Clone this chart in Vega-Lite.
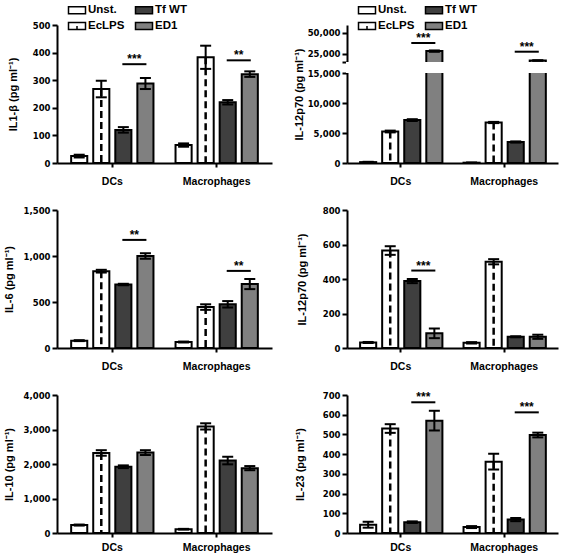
{
  "$schema": "https://vega.github.io/schema/vega-lite/v6.json",
  "padding": {"left": 3, "top": 4, "right": 0, "bottom": 0},
  "background": "white",
  "datasets": {
    "bars": [
      {"panel": "IL1b", "cell": "DCs", "cond": "Unst.", "value": 25, "lo": 20, "hi": 30},
      {"panel": "IL1b", "cell": "DCs", "cond": "EcLPS", "value": 268, "lo": 238, "hi": 298},
      {"panel": "IL1b", "cell": "DCs", "cond": "Tf WT", "value": 120, "lo": 110, "hi": 130},
      {"panel": "IL1b", "cell": "DCs", "cond": "ED1", "value": 288, "lo": 268, "hi": 308},
      {"panel": "IL1b", "cell": "Macrophages", "cond": "Unst.", "value": 65, "lo": 59, "hi": 71},
      {"panel": "IL1b", "cell": "Macrophages", "cond": "EcLPS", "value": 383, "lo": 341, "hi": 425},
      {"panel": "IL1b", "cell": "Macrophages", "cond": "Tf WT", "value": 220, "lo": 212, "hi": 228},
      {"panel": "IL1b", "cell": "Macrophages", "cond": "ED1", "value": 322, "lo": 312, "hi": 332},
      {"panel": "IL12a", "cell": "DCs", "cond": "Unst.", "value": 150, "lo": 100, "hi": 200},
      {"panel": "IL12a", "cell": "DCs", "cond": "EcLPS", "value": 5250, "lo": 5100, "hi": 5400},
      {"panel": "IL12a", "cell": "DCs", "cond": "Tf WT", "value": 7150, "lo": 7000, "hi": 7300},
      {"panel": "IL12a", "cell": "DCs", "cond": "ED1", "value": 28000, "lo": 27200, "hi": 28800},
      {"panel": "IL12a", "cell": "Macrophages", "cond": "Unst.", "value": 50, "lo": 30, "hi": 70},
      {"panel": "IL12a", "cell": "Macrophages", "cond": "EcLPS", "value": 6750, "lo": 6650, "hi": 6850},
      {"panel": "IL12a", "cell": "Macrophages", "cond": "Tf WT", "value": 3500, "lo": 3400, "hi": 3600},
      {"panel": "IL12a", "cell": "Macrophages", "cond": "ED1", "value": 16800, "lo": 16500, "hi": 17100},
      {"panel": "IL6", "cell": "DCs", "cond": "Unst.", "value": 80, "lo": 75, "hi": 85},
      {"panel": "IL6", "cell": "DCs", "cond": "EcLPS", "value": 835, "lo": 820, "hi": 850},
      {"panel": "IL6", "cell": "DCs", "cond": "Tf WT", "value": 690, "lo": 682, "hi": 698},
      {"panel": "IL6", "cell": "DCs", "cond": "ED1", "value": 1000, "lo": 970, "hi": 1030},
      {"panel": "IL6", "cell": "Macrophages", "cond": "Unst.", "value": 65, "lo": 60, "hi": 70},
      {"panel": "IL6", "cell": "Macrophages", "cond": "EcLPS", "value": 445, "lo": 415, "hi": 475},
      {"panel": "IL6", "cell": "Macrophages", "cond": "Tf WT", "value": 475, "lo": 440, "hi": 510},
      {"panel": "IL6", "cell": "Macrophages", "cond": "ED1", "value": 695, "lo": 640, "hi": 750},
      {"panel": "IL12b", "cell": "DCs", "cond": "Unst.", "value": 32, "lo": 29, "hi": 35},
      {"panel": "IL12b", "cell": "DCs", "cond": "EcLPS", "value": 565, "lo": 540, "hi": 590},
      {"panel": "IL12b", "cell": "DCs", "cond": "Tf WT", "value": 388, "lo": 376, "hi": 400},
      {"panel": "IL12b", "cell": "DCs", "cond": "ED1", "value": 85, "lo": 57, "hi": 113},
      {"panel": "IL12b", "cell": "Macrophages", "cond": "Unst.", "value": 30, "lo": 26, "hi": 34},
      {"panel": "IL12b", "cell": "Macrophages", "cond": "EcLPS", "value": 500, "lo": 485, "hi": 515},
      {"panel": "IL12b", "cell": "Macrophages", "cond": "Tf WT", "value": 65, "lo": 62, "hi": 68},
      {"panel": "IL12b", "cell": "Macrophages", "cond": "ED1", "value": 65, "lo": 53, "hi": 77},
      {"panel": "IL10", "cell": "DCs", "cond": "Unst.", "value": 230, "lo": 215, "hi": 245},
      {"panel": "IL10", "cell": "DCs", "cond": "EcLPS", "value": 2320, "lo": 2240, "hi": 2400},
      {"panel": "IL10", "cell": "DCs", "cond": "Tf WT", "value": 1920, "lo": 1880, "hi": 1960},
      {"panel": "IL10", "cell": "DCs", "cond": "ED1", "value": 2330, "lo": 2260, "hi": 2400},
      {"panel": "IL10", "cell": "Macrophages", "cond": "Unst.", "value": 110, "lo": 100, "hi": 120},
      {"panel": "IL10", "cell": "Macrophages", "cond": "EcLPS", "value": 3090, "lo": 3000, "hi": 3180},
      {"panel": "IL10", "cell": "Macrophages", "cond": "Tf WT", "value": 2100, "lo": 1990, "hi": 2210},
      {"panel": "IL10", "cell": "Macrophages", "cond": "ED1", "value": 1880, "lo": 1820, "hi": 1940},
      {"panel": "IL23", "cell": "DCs", "cond": "Unst.", "value": 42, "lo": 27, "hi": 57},
      {"panel": "IL23", "cell": "DCs", "cond": "EcLPS", "value": 530, "lo": 508, "hi": 552},
      {"panel": "IL23", "cell": "DCs", "cond": "Tf WT", "value": 55, "lo": 51, "hi": 59},
      {"panel": "IL23", "cell": "DCs", "cond": "ED1", "value": 570, "lo": 520, "hi": 620},
      {"panel": "IL23", "cell": "Macrophages", "cond": "Unst.", "value": 30, "lo": 25, "hi": 35},
      {"panel": "IL23", "cell": "Macrophages", "cond": "EcLPS", "value": 362, "lo": 322, "hi": 402},
      {"panel": "IL23", "cell": "Macrophages", "cond": "Tf WT", "value": 68, "lo": 60, "hi": 76},
      {"panel": "IL23", "cell": "Macrophages", "cond": "ED1", "value": 497, "lo": 485, "hi": 509}
    ],
    "sig": [
      {"panel": "IL1b", "cell": "DCs", "cond": "Tf WT", "y": 358, "stars": "***"},
      {"panel": "IL1b", "cell": "DCs", "cond": "ED1", "y": 358, "stars": ""},
      {"panel": "IL1b", "cell": "Macrophages", "cond": "Tf WT", "y": 372, "stars": "**"},
      {"panel": "IL1b", "cell": "Macrophages", "cond": "ED1", "y": 372, "stars": ""},
      {"panel": "IL12a", "cell": "DCs", "cond": "Tf WT", "y": 37700, "stars": "***"},
      {"panel": "IL12a", "cell": "DCs", "cond": "ED1", "y": 37700, "stars": ""},
      {"panel": "IL12a", "cell": "Macrophages", "cond": "Tf WT", "y": 27300, "stars": "***"},
      {"panel": "IL12a", "cell": "Macrophages", "cond": "ED1", "y": 27300, "stars": ""},
      {"panel": "IL6", "cell": "DCs", "cond": "Tf WT", "y": 1175, "stars": "**"},
      {"panel": "IL6", "cell": "DCs", "cond": "ED1", "y": 1175, "stars": ""},
      {"panel": "IL6", "cell": "Macrophages", "cond": "Tf WT", "y": 838, "stars": "**"},
      {"panel": "IL6", "cell": "Macrophages", "cond": "ED1", "y": 838, "stars": ""},
      {"panel": "IL12b", "cell": "DCs", "cond": "Tf WT", "y": 449, "stars": "***"},
      {"panel": "IL12b", "cell": "DCs", "cond": "ED1", "y": 449, "stars": ""},
      {"panel": "IL23", "cell": "DCs", "cond": "Tf WT", "y": 663, "stars": "***"},
      {"panel": "IL23", "cell": "DCs", "cond": "ED1", "y": 663, "stars": ""},
      {"panel": "IL23", "cell": "Macrophages", "cond": "Tf WT", "y": 612, "stars": "***"},
      {"panel": "IL23", "cell": "Macrophages", "cond": "ED1", "y": 612, "stars": ""}
    ]
  },
  "columns": 2,
  "bounds": "flush",
  "align": "all",
  "spacing": {"row": 47, "column": 75},
  "resolve": {"scale": {"fill": "independent"}, "legend": {"fill": "independent"}},
  "concat": [
    {
      "width": 215, "height": 138,
      "data": {"name": "bars"},
      "transform": [{"filter": "datum.panel === 'IL1b'"}],
      "resolve": {"axis": {"y": "independent"}},
      "encoding": {
        "x": {"field": "cell", "type": "nominal", "sort": ["DCs", "Macrophages"], "scale": {"paddingInner": 0, "paddingOuter": 0.03}, "axis": {"title": null, "labelAngle": 0, "bandPosition": 0.5}},
        "xOffset": {"field": "cond", "type": "nominal", "scale": {"domain": ["Unst.", "EcLPS", "Tf WT", "ED1"], "paddingInner": 0.27, "paddingOuter": 0.5}}
      },
      "layer": [
        {"mark": {"type": "bar", "stroke": "black", "strokeWidth": 2},
         "encoding": {
           "y": {"field": "value", "type": "quantitative", "title": "IL1-β (pg ml⁻¹)", "scale": {"domain": [0, 500], "nice": false}, "axis": {"values": [0, 100, 200, 300, 400, 500], "format": ",.0f", "titlePadding": 14}},
           "fill": {"field": "cond", "type": "nominal", "scale": {"domain": ["Unst.", "EcLPS", "Tf WT", "ED1"], "range": ["#ffffff", "#ffffff", "#3f3f3f", "#808080"]},
             "legend": {"orient": "none", "legendX": 14, "legendY": -21, "columns": 2, "title": null, "padding": 0,
               "symbolType": "M-1.7,-0.7H1.7V0.7H-1.7Z", "symbolSize": 100, "symbolStrokeColor": "black", "symbolStrokeWidth": 1.5,
               "labelFont": "Liberation Sans", "labelFontSize": 11.5, "labelFontWeight": "bold", "labelColor": "black", "labelOffset": 5, "rowPadding": 2, "columnPadding": 7,
               "encode": {"symbols": {"update": {"shape": {"signal": "datum.value === 'EcLPS' ? 'M-1.7,-0.7H1.7V0.7H-1.7ZM0,0.7V0' : 'M-1.7,-0.7H1.7V0.7H-1.7Z'"}, "stroke": {"value": "black"}}}}}}
         }},
        {"transform": [{"filter": "datum.cond === 'EcLPS'"}], "mark": {"type": "rule", "strokeDash": [7, 4], "strokeWidth": 2.5, "color": "black"},
         "encoding": {"y": {"field": "value", "type": "quantitative", "axis": null}, "y2": {"datum": 0}}},
        {"mark": {"type": "rule", "strokeWidth": 2, "color": "black"}, "encoding": {"y": {"field": "lo", "type": "quantitative", "axis": null}, "y2": {"field": "hi"}}},
        {"mark": {"type": "tick", "thickness": 2, "size": 11, "color": "black", "opacity": 1}, "encoding": {"y": {"field": "hi", "type": "quantitative", "axis": null}}},
        {"mark": {"type": "tick", "thickness": 2, "size": 11, "color": "black", "opacity": 1}, "encoding": {"y": {"field": "lo", "type": "quantitative", "axis": null}}},
        {"data": {"name": "sig"}, "transform": [{"filter": "datum.panel === 'IL1b'"}], "mark": {"type": "line", "strokeWidth": 2, "color": "black", "strokeCap": "square"},
         "encoding": {"y": {"field": "y", "type": "quantitative", "axis": null}, "detail": {"field": "cell"}}},
        {"data": {"name": "sig"}, "transform": [{"filter": "datum.panel === 'IL1b' && datum.stars !== ''"}], "mark": {"type": "text", "font": "Liberation Sans", "fontWeight": "bold", "fontSize": 12, "dx": 11, "dy": -1, "baseline": "alphabetic", "color": "black"},
         "encoding": {"y": {"field": "y", "type": "quantitative", "axis": null}, "text": {"field": "stars"}}}
      ]
    },
    {
      "width": 211, "height": 138,
      "resolve": {"axis": {"y": "independent"}},
      "layer": [
        {
          "data": {"name": "bars"},
          "transform": [{"filter": "datum.panel === 'IL12a'"}],
          "resolve": {"axis": {"y": "independent"}},
          "encoding": {
            "x": {"field": "cell", "type": "nominal", "sort": ["DCs", "Macrophages"], "scale": {"paddingInner": 0, "paddingOuter": 0.02}, "axis": {"title": null, "labelAngle": 0, "bandPosition": 0.5}},
            "xOffset": {"field": "cond", "type": "nominal", "scale": {"domain": ["Unst.", "EcLPS", "Tf WT", "ED1"], "paddingInner": 0.27, "paddingOuter": 0.5}}
          },
          "layer": [
            {"mark": {"type": "bar", "stroke": "black", "strokeWidth": 2},
             "encoding": {
               "y": {"field": "value", "type": "quantitative", "title": "IL-12p70 (pg ml⁻¹)", "scale": {"domain": [0, 15000, 15001, 59200], "range": [138, 48, 37, 0], "nice": false, "zero": false},
                 "axis": {"values": [0, 5000, 10000, 15000, 15001, 25000, 50000], "labelExpr": "datum.value === 15001 ? '' : format(datum.value, ',.0f')", "titlePadding": 3, "zindex": 0}},
               "fill": {"field": "cond", "type": "nominal", "scale": {"domain": ["Unst.", "EcLPS", "Tf WT", "ED1"], "range": ["#ffffff", "#ffffff", "#3f3f3f", "#808080"]},
                 "legend": {"orient": "none", "legendX": 14, "legendY": -21, "columns": 2, "title": null, "padding": 0,
                   "symbolType": "M-1.7,-0.7H1.7V0.7H-1.7Z", "symbolSize": 100, "symbolStrokeColor": "black", "symbolStrokeWidth": 1.5,
                   "labelFont": "Liberation Sans", "labelFontSize": 11.5, "labelFontWeight": "bold", "labelColor": "black", "labelOffset": 5, "rowPadding": 2, "columnPadding": 7,
                   "encode": {"symbols": {"update": {"shape": {"signal": "datum.value === 'EcLPS' ? 'M-1.7,-0.7H1.7V0.7H-1.7ZM0,0.7V0' : 'M-1.7,-0.7H1.7V0.7H-1.7Z'"}, "stroke": {"value": "black"}}}}}}
             }},
            {"transform": [{"filter": "datum.cond === 'EcLPS'"}], "mark": {"type": "rule", "strokeDash": [7, 4], "strokeWidth": 2.5, "color": "black"},
             "encoding": {"y": {"field": "value", "type": "quantitative", "axis": null}, "y2": {"datum": 0}}},
            {"mark": {"type": "rule", "strokeWidth": 2, "color": "black"}, "encoding": {"y": {"field": "lo", "type": "quantitative", "axis": null}, "y2": {"field": "hi"}}},
            {"mark": {"type": "tick", "thickness": 2, "size": 11, "color": "black", "opacity": 1}, "encoding": {"y": {"field": "hi", "type": "quantitative", "axis": null}}},
            {"mark": {"type": "tick", "thickness": 2, "size": 11, "color": "black", "opacity": 1}, "encoding": {"y": {"field": "lo", "type": "quantitative", "axis": null}}}
          ]
        },
        {"data": {"values": [{}]}, "mark": {"type": "rect", "fill": "white", "stroke": "white", "strokeWidth": 2},
         "encoding": {"y": {"datum": 15000.09, "type": "quantitative", "axis": null}, "y2": {"datum": 15000.91}}},
        {
          "data": {"name": "sig"},
          "transform": [{"filter": "datum.panel === 'IL12a'"}],
          "resolve": {"axis": {"y": "independent"}},
          "encoding": {
            "x": {"field": "cell", "type": "nominal", "sort": ["DCs", "Macrophages"]},
            "xOffset": {"field": "cond", "type": "nominal"}
          },
          "layer": [
            {"mark": {"type": "line", "strokeWidth": 2, "color": "black", "strokeCap": "square"},
             "encoding": {"y": {"field": "y", "type": "quantitative", "axis": null}, "detail": {"field": "cell"}}},
            {"transform": [{"filter": "datum.stars !== ''"}], "mark": {"type": "text", "font": "Liberation Sans", "fontWeight": "bold", "fontSize": 12, "dx": 11, "dy": -1, "baseline": "alphabetic", "color": "black"},
             "encoding": {"y": {"field": "y", "type": "quantitative", "axis": null}, "text": {"field": "stars"}}}
          ]
        }
      ]
    },
    {
      "width": 215, "height": 138,
      "data": {"name": "bars"},
      "transform": [{"filter": "datum.panel === 'IL6'"}],
      "resolve": {"axis": {"y": "independent"}},
      "encoding": {
        "x": {"field": "cell", "type": "nominal", "sort": ["DCs", "Macrophages"], "scale": {"paddingInner": 0, "paddingOuter": 0.03}, "axis": {"title": null, "labelAngle": 0, "bandPosition": 0.5}},
        "xOffset": {"field": "cond", "type": "nominal", "scale": {"domain": ["Unst.", "EcLPS", "Tf WT", "ED1"], "paddingInner": 0.27, "paddingOuter": 0.5}}
      },
      "layer": [
        {"mark": {"type": "bar", "stroke": "black", "strokeWidth": 2},
         "encoding": {
           "y": {"field": "value", "type": "quantitative", "title": "IL-6 (pg ml⁻¹)", "scale": {"domain": [0, 1500], "nice": false}, "axis": {"values": [0, 500, 1000, 1500], "format": ",.0f", "titlePadding": 9}},
           "fill": {"field": "cond", "type": "nominal", "scale": {"domain": ["Unst.", "EcLPS", "Tf WT", "ED1"], "range": ["#ffffff", "#ffffff", "#3f3f3f", "#808080"]}, "legend": null}
         }},
        {"transform": [{"filter": "datum.cond === 'EcLPS'"}], "mark": {"type": "rule", "strokeDash": [7, 4], "strokeWidth": 2.5, "color": "black"},
         "encoding": {"y": {"field": "value", "type": "quantitative", "axis": null}, "y2": {"datum": 0}}},
        {"mark": {"type": "rule", "strokeWidth": 2, "color": "black"}, "encoding": {"y": {"field": "lo", "type": "quantitative", "axis": null}, "y2": {"field": "hi"}}},
        {"mark": {"type": "tick", "thickness": 2, "size": 11, "color": "black", "opacity": 1}, "encoding": {"y": {"field": "hi", "type": "quantitative", "axis": null}}},
        {"mark": {"type": "tick", "thickness": 2, "size": 11, "color": "black", "opacity": 1}, "encoding": {"y": {"field": "lo", "type": "quantitative", "axis": null}}},
        {"data": {"name": "sig"}, "transform": [{"filter": "datum.panel === 'IL6'"}], "mark": {"type": "line", "strokeWidth": 2, "color": "black", "strokeCap": "square"},
         "encoding": {"y": {"field": "y", "type": "quantitative", "axis": null}, "detail": {"field": "cell"}}},
        {"data": {"name": "sig"}, "transform": [{"filter": "datum.panel === 'IL6' && datum.stars !== ''"}], "mark": {"type": "text", "font": "Liberation Sans", "fontWeight": "bold", "fontSize": 12, "dx": 11, "dy": -1, "baseline": "alphabetic", "color": "black"},
         "encoding": {"y": {"field": "y", "type": "quantitative", "axis": null}, "text": {"field": "stars"}}}
      ]
    },
    {
      "width": 211, "height": 138,
      "data": {"name": "bars"},
      "transform": [{"filter": "datum.panel === 'IL12b'"}],
      "resolve": {"axis": {"y": "independent"}},
      "encoding": {
        "x": {"field": "cell", "type": "nominal", "sort": ["DCs", "Macrophages"], "scale": {"paddingInner": 0, "paddingOuter": 0.02}, "axis": {"title": null, "labelAngle": 0, "bandPosition": 0.5}},
        "xOffset": {"field": "cond", "type": "nominal", "scale": {"domain": ["Unst.", "EcLPS", "Tf WT", "ED1"], "paddingInner": 0.27, "paddingOuter": 0.5}}
      },
      "layer": [
        {"mark": {"type": "bar", "stroke": "black", "strokeWidth": 2},
         "encoding": {
           "y": {"field": "value", "type": "quantitative", "title": "IL-12p70 (pg ml⁻¹)", "scale": {"domain": [0, 800], "nice": false}, "axis": {"values": [0, 200, 400, 600, 800], "format": ",.0f", "titlePadding": 15}},
           "fill": {"field": "cond", "type": "nominal", "scale": {"domain": ["Unst.", "EcLPS", "Tf WT", "ED1"], "range": ["#ffffff", "#ffffff", "#3f3f3f", "#808080"]}, "legend": null}
         }},
        {"transform": [{"filter": "datum.cond === 'EcLPS'"}], "mark": {"type": "rule", "strokeDash": [7, 4], "strokeWidth": 2.5, "color": "black"},
         "encoding": {"y": {"field": "value", "type": "quantitative", "axis": null}, "y2": {"datum": 0}}},
        {"mark": {"type": "rule", "strokeWidth": 2, "color": "black"}, "encoding": {"y": {"field": "lo", "type": "quantitative", "axis": null}, "y2": {"field": "hi"}}},
        {"mark": {"type": "tick", "thickness": 2, "size": 11, "color": "black", "opacity": 1}, "encoding": {"y": {"field": "hi", "type": "quantitative", "axis": null}}},
        {"mark": {"type": "tick", "thickness": 2, "size": 11, "color": "black", "opacity": 1}, "encoding": {"y": {"field": "lo", "type": "quantitative", "axis": null}}},
        {"data": {"name": "sig"}, "transform": [{"filter": "datum.panel === 'IL12b'"}], "mark": {"type": "line", "strokeWidth": 2, "color": "black", "strokeCap": "square"},
         "encoding": {"y": {"field": "y", "type": "quantitative", "axis": null}, "detail": {"field": "cell"}}},
        {"data": {"name": "sig"}, "transform": [{"filter": "datum.panel === 'IL12b' && datum.stars !== ''"}], "mark": {"type": "text", "font": "Liberation Sans", "fontWeight": "bold", "fontSize": 12, "dx": 11, "dy": -1, "baseline": "alphabetic", "color": "black"},
         "encoding": {"y": {"field": "y", "type": "quantitative", "axis": null}, "text": {"field": "stars"}}}
      ]
    },
    {
      "width": 215, "height": 138,
      "data": {"name": "bars"},
      "transform": [{"filter": "datum.panel === 'IL10'"}],
      "resolve": {"axis": {"y": "independent"}},
      "encoding": {
        "x": {"field": "cell", "type": "nominal", "sort": ["DCs", "Macrophages"], "scale": {"paddingInner": 0, "paddingOuter": 0.03}, "axis": {"title": null, "labelAngle": 0, "bandPosition": 0.5, "labelPadding": 5}},
        "xOffset": {"field": "cond", "type": "nominal", "scale": {"domain": ["Unst.", "EcLPS", "Tf WT", "ED1"], "paddingInner": 0.27, "paddingOuter": 0.5}}
      },
      "layer": [
        {"mark": {"type": "bar", "stroke": "black", "strokeWidth": 2},
         "encoding": {
           "y": {"field": "value", "type": "quantitative", "title": "IL-10 (pg ml⁻¹)", "scale": {"domain": [0, 4000], "nice": false}, "axis": {"values": [0, 1000, 2000, 3000, 4000], "format": ",.0f", "titlePadding": 9}},
           "fill": {"field": "cond", "type": "nominal", "scale": {"domain": ["Unst.", "EcLPS", "Tf WT", "ED1"], "range": ["#ffffff", "#ffffff", "#3f3f3f", "#808080"]}, "legend": null}
         }},
        {"transform": [{"filter": "datum.cond === 'EcLPS'"}], "mark": {"type": "rule", "strokeDash": [7, 4], "strokeWidth": 2.5, "color": "black"},
         "encoding": {"y": {"field": "value", "type": "quantitative", "axis": null}, "y2": {"datum": 0}}},
        {"mark": {"type": "rule", "strokeWidth": 2, "color": "black"}, "encoding": {"y": {"field": "lo", "type": "quantitative", "axis": null}, "y2": {"field": "hi"}}},
        {"mark": {"type": "tick", "thickness": 2, "size": 11, "color": "black", "opacity": 1}, "encoding": {"y": {"field": "hi", "type": "quantitative", "axis": null}}},
        {"mark": {"type": "tick", "thickness": 2, "size": 11, "color": "black", "opacity": 1}, "encoding": {"y": {"field": "lo", "type": "quantitative", "axis": null}}}
      ]
    },
    {
      "width": 211, "height": 138,
      "data": {"name": "bars"},
      "transform": [{"filter": "datum.panel === 'IL23'"}],
      "resolve": {"axis": {"y": "independent"}},
      "encoding": {
        "x": {"field": "cell", "type": "nominal", "sort": ["DCs", "Macrophages"], "scale": {"paddingInner": 0, "paddingOuter": 0.02}, "axis": {"title": null, "labelAngle": 0, "bandPosition": 0.5, "labelPadding": 5}},
        "xOffset": {"field": "cond", "type": "nominal", "scale": {"domain": ["Unst.", "EcLPS", "Tf WT", "ED1"], "paddingInner": 0.27, "paddingOuter": 0.5}}
      },
      "layer": [
        {"mark": {"type": "bar", "stroke": "black", "strokeWidth": 2},
         "encoding": {
           "y": {"field": "value", "type": "quantitative", "title": "IL-23 (pg ml⁻¹)", "scale": {"domain": [0, 700], "nice": false}, "axis": {"values": [0, 100, 200, 300, 400, 500, 600, 700], "format": ",.0f", "titlePadding": 17}},
           "fill": {"field": "cond", "type": "nominal", "scale": {"domain": ["Unst.", "EcLPS", "Tf WT", "ED1"], "range": ["#ffffff", "#ffffff", "#3f3f3f", "#808080"]}, "legend": null}
         }},
        {"transform": [{"filter": "datum.cond === 'EcLPS'"}], "mark": {"type": "rule", "strokeDash": [7, 4], "strokeWidth": 2.5, "color": "black"},
         "encoding": {"y": {"field": "value", "type": "quantitative", "axis": null}, "y2": {"datum": 0}}},
        {"mark": {"type": "rule", "strokeWidth": 2, "color": "black"}, "encoding": {"y": {"field": "lo", "type": "quantitative", "axis": null}, "y2": {"field": "hi"}}},
        {"mark": {"type": "tick", "thickness": 2, "size": 11, "color": "black", "opacity": 1}, "encoding": {"y": {"field": "hi", "type": "quantitative", "axis": null}}},
        {"mark": {"type": "tick", "thickness": 2, "size": 11, "color": "black", "opacity": 1}, "encoding": {"y": {"field": "lo", "type": "quantitative", "axis": null}}},
        {"data": {"name": "sig"}, "transform": [{"filter": "datum.panel === 'IL23'"}], "mark": {"type": "line", "strokeWidth": 2, "color": "black", "strokeCap": "square"},
         "encoding": {"y": {"field": "y", "type": "quantitative", "axis": null}, "detail": {"field": "cell"}}},
        {"data": {"name": "sig"}, "transform": [{"filter": "datum.panel === 'IL23' && datum.stars !== ''"}], "mark": {"type": "text", "font": "Liberation Sans", "fontWeight": "bold", "fontSize": 12, "dx": 11, "dy": -1, "baseline": "alphabetic", "color": "black"},
         "encoding": {"y": {"field": "y", "type": "quantitative", "axis": null}, "text": {"field": "stars"}}}
      ]
    }
  ],
  "config": {
    "view": {"stroke": null},
    "font": "Liberation Sans",
    "axis": {"grid": false, "domain": true, "ticks": true, "zindex": 1, "domainColor": "black", "domainWidth": 2, "domainOpacity": 1, "tickColor": "black", "tickWidth": 2, "tickOpacity": 1, "labelColor": "black", "titleColor": "black"},
    "axisY": {"labelFont": "DejaVu Sans", "labelFontSize": 8.5, "labelFontWeight": "bold", "tickSize": 5, "labelPadding": 2, "titleFont": "Liberation Sans", "titleFontSize": 11, "titleFontWeight": "bold"},
    "axisX": {"labelFont": "Liberation Sans", "labelFontSize": 10.5, "labelFontWeight": "bold", "tickSize": 4, "labelPadding": 9}
  }
}
